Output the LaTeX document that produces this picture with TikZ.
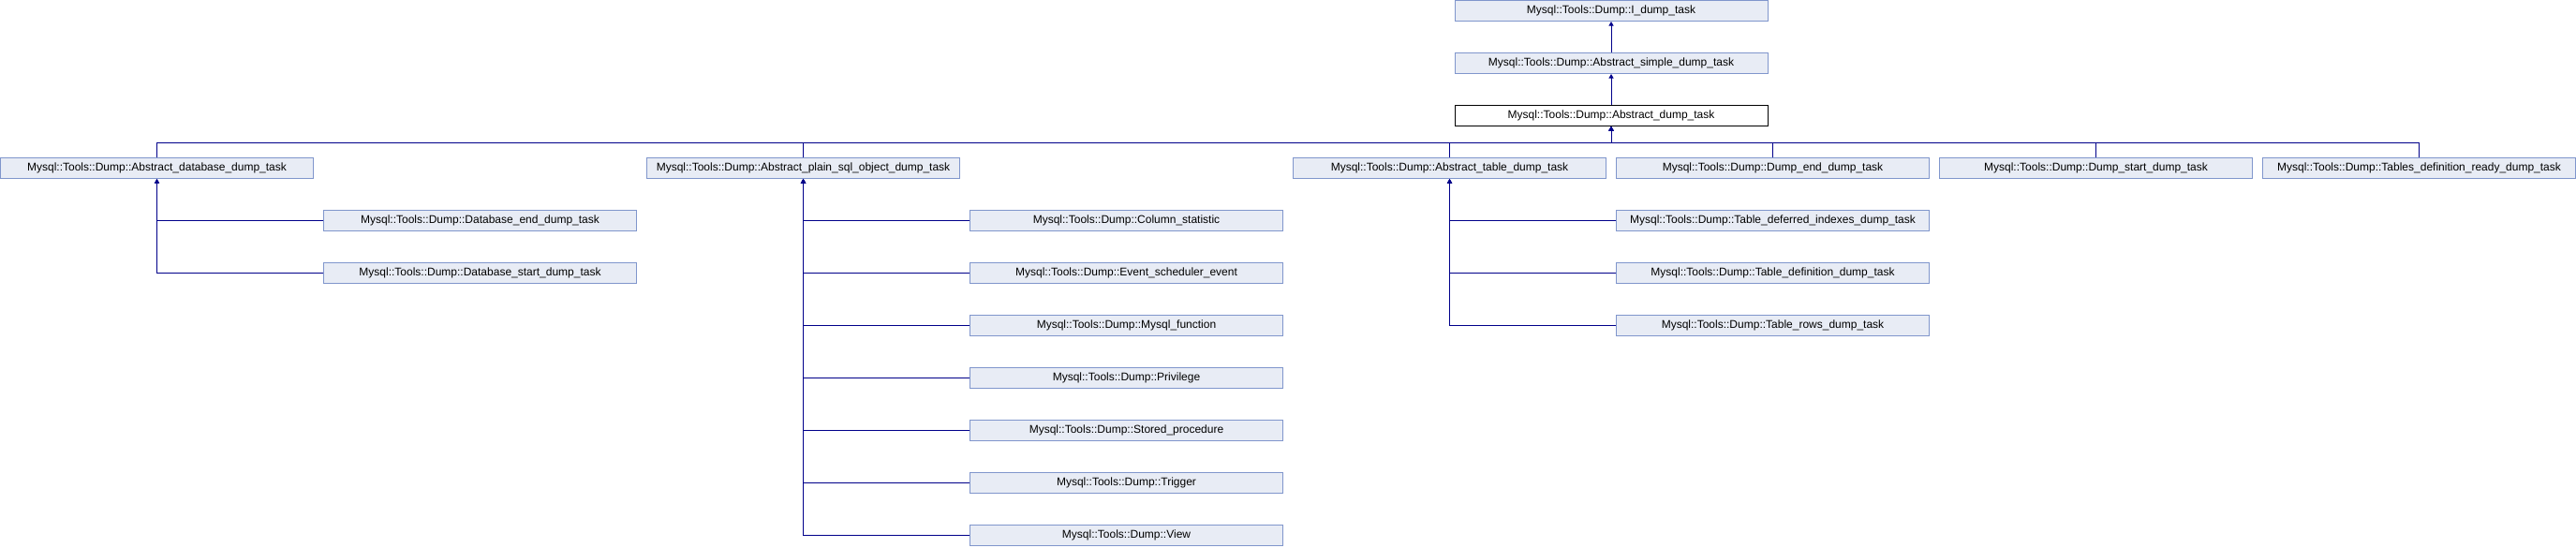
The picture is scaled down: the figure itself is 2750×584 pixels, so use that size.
\documentclass[tikz,border=0pt]{standalone}
\usepackage{fontspec}
\setmainfont{Liberation Sans}
\usetikzlibrary{arrows.meta}
\definecolor{boxfill}{RGB}{232,236,245}
\definecolor{boxline}{RGB}{128,150,204}
\definecolor{linkcol}{RGB}{0,0,138}
\begin{document}
\begin{tikzpicture}[x=1pt,y=-1pt,
cls/.style={draw=boxline,fill=boxfill,line width=1pt,minimum width=334pt,minimum height=22pt,inner sep=0pt,font=\fontsize{12}{14}\selectfont},
cur/.style={cls,draw=black,fill=white},
link/.style={draw=linkcol,line width=1pt,-{Triangle[width=5pt,length=4.5pt]}}]
\useasboundingbox (0,0) rectangle (2750,584);
\node[cls] (idt) at (1720,11.5) {Mysql::Tools::Dump::I\_dump\_task};
\node[cls] (asdt) at (1720,67.5) {Mysql::Tools::Dump::Abstract\_simple\_dump\_task};
\node[cur] (adt) at (1720,123.5) {Mysql::Tools::Dump::Abstract\_dump\_task};
\node[cls] (adb) at (167.5,179.5) {Mysql::Tools::Dump::Abstract\_database\_dump\_task};
\node[cls] (apsql) at (857.5,179.5) {Mysql::Tools::Dump::Abstract\_plain\_sql\_object\_dump\_task};
\node[cls] (atbl) at (1547.5,179.5) {Mysql::Tools::Dump::Abstract\_table\_dump\_task};
\node[cls] (dend) at (1892.5,179.5) {Mysql::Tools::Dump::Dump\_end\_dump\_task};
\node[cls] (dstart) at (2237.5,179.5) {Mysql::Tools::Dump::Dump\_start\_dump\_task};
\node[cls] (tdready) at (2582.5,179.5) {Mysql::Tools::Dump::Tables\_definition\_ready\_dump\_task};
\node[cls] (dbend) at (512.5,235.5) {Mysql::Tools::Dump::Database\_end\_dump\_task};
\node[cls] (dbstart) at (512.5,291.5) {Mysql::Tools::Dump::Database\_start\_dump\_task};
\node[cls] (colstat) at (1202.5,235.5) {Mysql::Tools::Dump::Column\_statistic};
\node[cls] (event) at (1202.5,291.5) {Mysql::Tools::Dump::Event\_scheduler\_event};
\node[cls] (func) at (1202.5,347.5) {Mysql::Tools::Dump::Mysql\_function};
\node[cls] (priv) at (1202.5,403.5) {Mysql::Tools::Dump::Privilege};
\node[cls] (proc) at (1202.5,459.5) {Mysql::Tools::Dump::Stored\_procedure};
\node[cls] (trig) at (1202.5,515.5) {Mysql::Tools::Dump::Trigger};
\node[cls] (view) at (1202.5,571.5) {Mysql::Tools::Dump::View};
\node[cls] (tdefer) at (1892.5,235.5) {Mysql::Tools::Dump::Table\_deferred\_indexes\_dump\_task};
\node[cls] (tdef) at (1892.5,291.5) {Mysql::Tools::Dump::Table\_definition\_dump\_task};
\node[cls] (trows) at (1892.5,347.5) {Mysql::Tools::Dump::Table\_rows\_dump\_task};
\coordinate (bus) at (0,152);
% chain at the top
\draw[link] (asdt) -- (idt);
\draw[link] (adt) -- (asdt);
% direct children of the abstract dump task
\draw[link] (adb.north) -- (adb.north |- bus) -| (adt.south);
\draw[link] (apsql.north) -- (apsql.north |- bus) -| (adt.south);
\draw[link] (atbl.north) -- (atbl.north |- bus) -| (adt.south);
\draw[link] (dend.north) -- (dend.north |- bus) -| (adt.south);
\draw[link] (dstart.north) -- (dstart.north |- bus) -| (adt.south);
\draw[link] (tdready.north) -- (tdready.north |- bus) -| (adt.south);
% second level
\draw[link] (dbend.west) -| (adb.south);
\draw[link] (dbstart.west) -| (adb.south);
\draw[link] (colstat.west) -| (apsql.south);
\draw[link] (event.west) -| (apsql.south);
\draw[link] (func.west) -| (apsql.south);
\draw[link] (priv.west) -| (apsql.south);
\draw[link] (proc.west) -| (apsql.south);
\draw[link] (trig.west) -| (apsql.south);
\draw[link] (view.west) -| (apsql.south);
\draw[link] (tdefer.west) -| (atbl.south);
\draw[link] (tdef.west) -| (atbl.south);
\draw[link] (trows.west) -| (atbl.south);
\end{tikzpicture}
\end{document}
